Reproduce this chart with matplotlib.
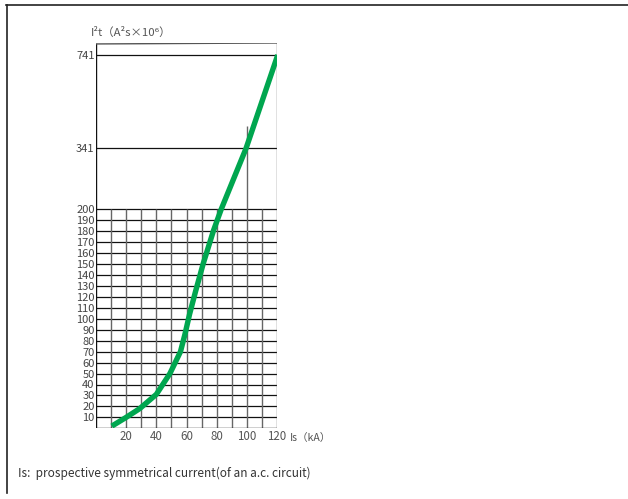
import numpy as np
import matplotlib
matplotlib.use("Agg")
import matplotlib.pyplot as plt
from matplotlib.lines import Line2D

plt.rcParams["font.family"] = ["Noto Sans CJK SC", "DejaVu Sans"]

# curve: prospective current (kA) vs let-through I2t
current_ka = [10.5, 20, 29, 40, 49, 56, 59, 62, 66, 71, 78, 83, 99.5, 120.5]
i2t_values = [2, 10, 18, 31, 50, 70, 86, 104, 125, 150, 181, 200, 341, 741]

y_ticks = list(range(10, 201, 10)) + [341, 741]
x_ticks = [20, 40, 60, 80, 100, 120]
x_grid = list(range(10, 111, 10))
y_grid_low = list(range(10, 201, 10))
y_grid_high = [341, 741]

# the y axis is drawn piecewise: fine grid up to 200, compressed above
y_breaks = [0, 200, 341, 741, 792]
y_pixels = [0, 219, 280, 373.3, 385.3]


def fwd(v):
    return np.interp(v, y_breaks, y_pixels)


def inv(p):
    return np.interp(p, y_pixels, y_breaks)


fig = plt.figure(figsize=(6.28, 4.99), dpi=100)
ax = fig.add_axes([96 / 628, 70.7 / 499, 181 / 628, 385.3 / 499])
ax.set_yscale("function", functions=(fwd, inv))
ax.set_xlim(0, 120)
ax.set_ylim(0, 792)

for s in ax.spines.values():
    s.set_visible(False)

# grid
ax.hlines(y_grid_low, 0, 120, colors="#111111", linewidth=0.9, zorder=1)
ax.hlines(y_grid_high, 0, 120, colors="#111111", linewidth=0.9, zorder=1)
ax.vlines(x_grid, 0, 200, colors="#666666", linewidth=1.0, zorder=1)
ax.vlines([100], 200, 435, colors="#666666", linewidth=1.0, zorder=1)

# box
ax.plot([0, 0], [0, 788], color="#111111", linewidth=1.0, zorder=2)
ax.plot([120, 120], [0, 792], color="#666666", linewidth=1.0, zorder=2)
ax.plot([0, 120], [788, 792], color="#555555", linewidth=1.0, zorder=2)
ax.plot([0, 120], [0, 0], color="#111111", linewidth=1.0, zorder=2)

ax.plot(current_ka, i2t_values, color="#00A64F", linewidth=3.9,
        solid_capstyle="butt", solid_joinstyle="round", zorder=3)

ax.set_yticks(y_ticks)
ax.set_yticklabels([str(v) for v in y_ticks])
ax.set_xticks(x_ticks)
ax.set_xticklabels([str(v) for v in x_ticks])
ax.tick_params(axis="y", length=0, pad=1, labelsize=8.0, labelcolor="#444444")
ax.tick_params(axis="x", length=0, pad=1, labelsize=8.3, labelcolor="#555555")
ax.minorticks_off()

ax.annotate("Is（kA）", xy=(120, 0), xytext=(9, -7), textcoords="offset points",
            fontsize=7.6, color="#555555", va="center", ha="left",
            annotation_clip=False)
ax.annotate("I²t（A²s×10⁶）", xy=(0, 792), xytext=(-4, 8), textcoords="offset points",
            fontsize=8.2, color="#555555", va="center", ha="left",
            annotation_clip=False)

fig.text(18 / 628, 1 - 473 / 499, "Is:  prospective symmetrical current(of an a.c. circuit)",
         fontsize=8.5, color="#333333", va="center", ha="left")

# outer frame (top and left only)
fig.add_artist(Line2D([6 / 628, 1], [1 - 4.5 / 499, 1 - 4.5 / 499],
                      color="#222222", linewidth=1.2))
fig.add_artist(Line2D([6.5 / 628, 6.5 / 628], [1 - 4.5 / 499, 1 - 493 / 499],
                      color="#222222", linewidth=1.2))

fig.savefig("out.png", dpi=100)
